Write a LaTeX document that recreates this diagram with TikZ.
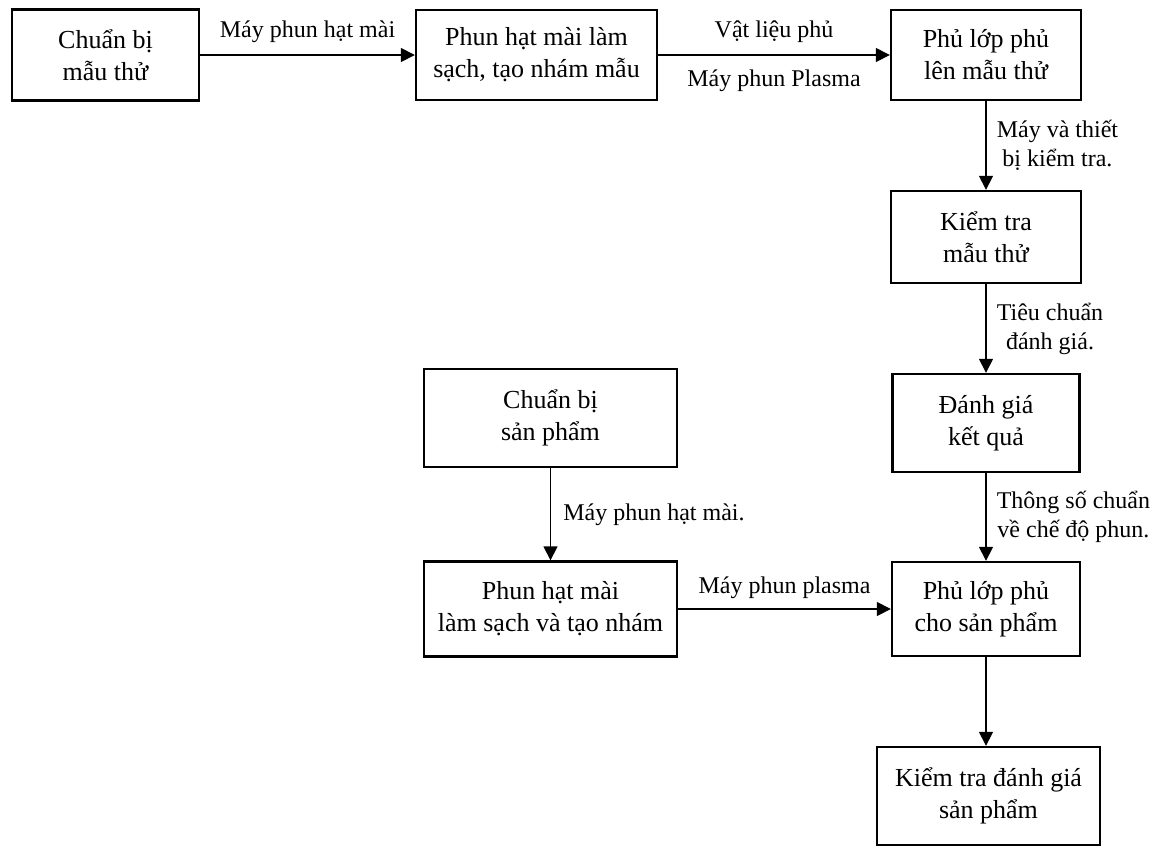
\documentclass[tikz,border=0pt]{standalone}
\usepackage{fontspec}
\setmainfont{Liberation Serif}
\usepackage{tikz}
\usetikzlibrary{arrows.meta}

\begin{document}
\begin{tikzpicture}[x=0.5pt, y=-0.5pt,
        hop/.style={draw, line width=1.2pt, align=center, inner sep=0pt, font=\fontsize{13}{16}\selectfont},
        mui/.style={line width=0.8pt, -{Triangle[length=7pt, width=7pt]}},
        nhan/.style={align=center, inner sep=1pt, font=\fontsize{12}{14.5}\selectfont}]
        \useasboundingbox (0,0) rectangle (1157,847);
        % mau thu
        \node [hop, minimum width=93.5pt,  minimum height=45.5pt] (cbmau)      at (105.5,55) {Chuẩn bị\\ mẫu thử};
        \node [hop, minimum width=120.5pt, minimum height=45pt]   (phunmau)    at (536.5,55) {Phun hạt mài làm\\ sạch, tạo nhám mẫu};
        \node [hop, minimum width=95pt,    minimum height=45pt]   (phumau)     at (986,55)   {Phủ lớp phủ\\ lên mẫu thử};
        \node [hop, minimum width=95pt,    minimum height=46pt]   (kiemtramau) at (986,237)  {Kiểm tra\\ mẫu thử};
        \node [hop, minimum width=93.5pt,  minimum height=49pt]   (danhgia)    at (986,423)  {Đánh giá\\ kết quả};
        % san pham
        \node [hop, minimum width=126.5pt, minimum height=49pt]   (cbsp)       at (550.5,418) {Chuẩn bị\\ sản phẩm};
        \node [hop, minimum width=126.5pt, minimum height=47.5pt] (phunsp)     at (550.5,609) {Phun hạt mài\\ làm sạch và tạo nhám};
        \node [hop, minimum width=94pt,    minimum height=47pt]   (phusp)      at (986,609)   {Phủ lớp phủ\\ cho sản phẩm};
        \node [hop, minimum width=111.5pt, minimum height=49pt]   (kiemtrasp)  at (988.5,796) {Kiểm tra đánh giá\\ sản phẩm};
        % mui ten
        \draw [mui] (cbmau) -- (phunmau)        node [nhan, midway, above=5pt] (n1) {Máy phun hạt mài};
        \draw [mui] (phunmau) -- (phumau)       node [nhan, midway, above=5pt] (n2) {Vật liệu phủ}
                                                node [nhan, midway, below=6pt] (n3) {Máy phun Plasma};
        \draw [mui] (phumau) -- (kiemtramau)    node [nhan, midway, right=4pt] (n4) {Máy và thiết\\ bị kiểm tra.};
        \draw [mui] (kiemtramau) -- (danhgia)   node [nhan, midway, right=4pt] (n5) {Tiêu chuẩn\\ đánh giá.};
        \draw [mui] (danhgia) -- (phusp)        node [nhan, midway, right=4pt] (n6) {Thông số chuẩn\\ về chế độ phun.};
        \draw [mui] (cbsp) -- (phunsp)          node [nhan, midway, right=5pt] (n7) {Máy phun hạt mài.};
        \draw [mui] (phunsp) -- (phusp)         node [nhan, midway, above=4pt] (n8) {Máy phun plasma};
        \draw [mui] (phusp) -- (kiemtrasp.north -| phusp);
\end{tikzpicture}
\end{document}
